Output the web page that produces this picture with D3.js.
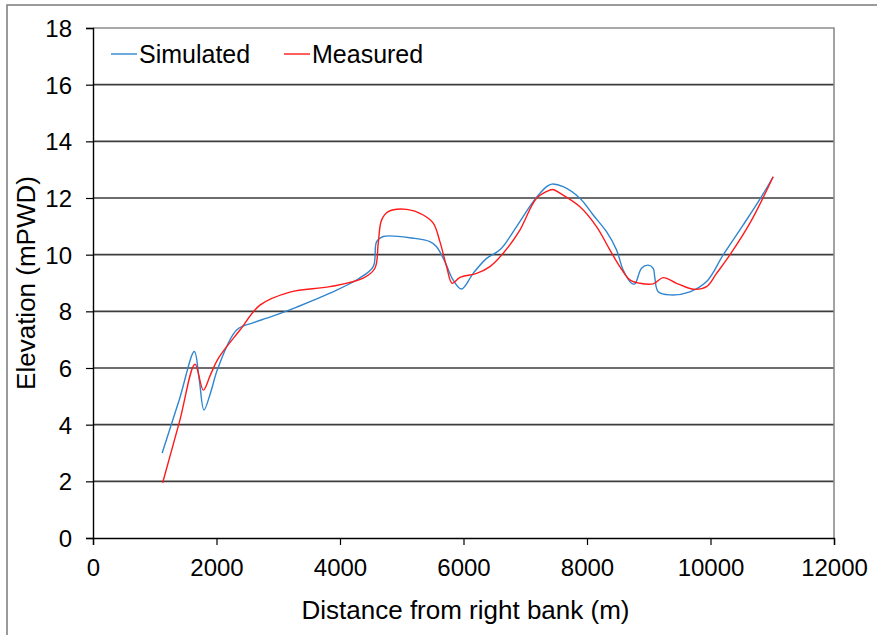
<!DOCTYPE html>
<html>
<head>
<meta charset="utf-8">
<script src="https://cdn.jsdelivr.net/npm/d3@7"></script>
<style>
  html, body { margin: 0; padding: 0; background: #fff; }
  svg { display: block; }
  text { font-family: "Liberation Sans", Arial, sans-serif; fill: #000; }
</style>
</head>
<body>
<svg id="chart" width="877" height="635"></svg>
<script>
// Cross-section profile: distance from right bank (m) vs elevation (mPWD)
const simulatedDist = [1120, 1400, 1641, 1720, 1797, 1900, 2024, 2326, 2600, 2800, 3000, 3300, 3837, 4300, 4538, 4593, 4700, 5186, 5456, 5564, 5699, 5834, 5969, 6157, 6374, 6590, 6860, 7129, 7345, 7431, 7614, 7885, 8100, 8316, 8478, 8586, 8721, 8775, 8883, 8991, 9072, 9099, 9153, 9342, 9666, 9936, 10206, 10530, 10826, 11015];
const simulatedElev = [3.0, 4.9, 6.58, 5.6, 4.52, 5.1, 6.0, 7.34, 7.6, 7.75, 7.9, 8.15, 8.64, 9.15, 9.58, 10.46, 10.64, 10.58, 10.46, 10.28, 9.75, 9.1, 8.79, 9.34, 9.87, 10.17, 10.99, 11.87, 12.4, 12.49, 12.4, 11.99, 11.4, 10.81, 10.17, 9.46, 8.99, 8.97, 9.52, 9.63, 9.52, 9.17, 8.69, 8.58, 8.69, 9.05, 9.99, 11.05, 12.05, 12.75];

const measuredDist = [1128, 1400, 1652, 1786, 1900, 2029, 2380, 2704, 3190, 3837, 4376, 4565, 4619, 4673, 4781, 5078, 5348, 5510, 5618, 5726, 5817, 5942, 6212, 6428, 6643, 6913, 7183, 7399, 7450, 7561, 7885, 8154, 8370, 8532, 8694, 8856, 9072, 9234, 9450, 9720, 9936, 10098, 10314, 10638, 11015];
const measuredElev = [1.95, 4.1, 6.13, 5.22, 5.75, 6.34, 7.34, 8.22, 8.68, 8.87, 9.17, 9.52, 10.4, 11.22, 11.52, 11.6, 11.4, 11.11, 10.46, 9.58, 8.99, 9.2, 9.34, 9.58, 10.05, 10.87, 11.99, 12.28, 12.3, 12.17, 11.69, 10.99, 10.17, 9.58, 9.11, 8.99, 8.97, 9.19, 8.99, 8.78, 8.87, 9.34, 9.99, 11.11, 12.75];

const xTicks = [0, 2000, 4000, 6000, 8000, 10000, 12000];
const yTicks = [0, 2, 4, 6, 8, 10, 12, 14, 16, 18];

const seriesNames = ["Simulated", "Measured"];
const seriesColors = ["#2f86cf", "#ff1a1a"];

const svg = d3.select("#chart");
const plot = { left: 93, top: 28, right: 834, bottom: 538 };

const x = d3.scaleLinear().domain([0, 12000]).range([plot.left, plot.right]);
const y = d3.scaleLinear().domain([0, 18]).range([plot.bottom, plot.top]);

// outer chart frame
svg.append("path")
  .attr("d", "M7,640 L7,5 L880,5")
  .attr("fill", "none")
  .attr("stroke", "#7a7a7a")
  .attr("stroke-width", 1.5);

// horizontal gridlines
svg.append("g")
  .selectAll("line")
  .data(yTicks.filter(d => d > 0 && d < 18))
  .join("line")
  .attr("x1", plot.left).attr("x2", plot.right)
  .attr("y1", d => y(d)).attr("y2", d => y(d))
  .attr("stroke", "#3c3c3c")
  .attr("stroke-width", 1.6);

// plot area border (top and right)
svg.append("path")
  .attr("d", `M${plot.left},${y(18)} L${plot.right},${y(18)} L${plot.right},${plot.bottom}`)
  .attr("fill", "none")
  .attr("stroke", "#8c8c8c")
  .attr("stroke-width", 1.6);

// axes
const xAxis = d3.axisBottom(x).tickValues(xTicks).tickSize(7).tickPadding(14).tickFormat(d3.format("d"));
const yAxis = d3.axisLeft(y).tickValues(yTicks).tickSize(7).tickPadding(14).tickFormat(d3.format("d"));

const gx = svg.append("g").attr("transform", `translate(0,${plot.bottom})`).call(xAxis);
const gy = svg.append("g").attr("transform", `translate(${plot.left},0)`).call(yAxis);

[gx, gy].forEach(g => {
  g.select(".domain").attr("stroke", "#000").attr("stroke-width", 1.4);
  g.selectAll(".tick line").attr("stroke", "#000").attr("stroke-width", 1.2);
  g.selectAll(".tick text")
    .attr("font-family", "'Liberation Sans', Arial, sans-serif")
    .attr("font-size", 24)
    .attr("fill", "#000");
});
gy.selectAll(".tick text").attr("dy", "0.36em");

// series lines
const line = d3.line()
  .x(d => x(d[0]))
  .y(d => y(d[1]))
  .curve(d3.curveCatmullRom.alpha(0.5));

const series = [
  d3.zip(simulatedDist, simulatedElev),
  d3.zip(measuredDist, measuredElev)
];

svg.append("g")
  .selectAll("path")
  .data(series)
  .join("path")
  .attr("d", line)
  .attr("fill", "none")
  .attr("stroke", (d, i) => seriesColors[i])
  .attr("stroke-width", 1.4);

// legend
const legendX = [111, 284];
const legend = svg.append("g");
seriesNames.forEach((name, i) => {
  legend.append("line")
    .attr("x1", legendX[i]).attr("x2", legendX[i] + 26)
    .attr("y1", 54).attr("y2", 54)
    .attr("stroke", seriesColors[i])
    .attr("stroke-width", 1.4);
  legend.append("text")
    .attr("x", legendX[i] + 28)
    .attr("y", 63)
    .attr("font-size", 25)
    .text(name);
});

// axis titles
svg.append("text")
  .attr("x", (plot.left + plot.right) / 2 + 2)
  .attr("y", 619)
  .attr("text-anchor", "middle")
  .attr("font-size", 26)
  .text("Distance from right bank (m)");

svg.append("text")
  .attr("transform", `translate(35,${(plot.top + plot.bottom) / 2}) rotate(-90)`)
  .attr("text-anchor", "middle")
  .attr("font-size", 26)
  .text("Elevation (mPWD)");
</script>
</body>
</html>
